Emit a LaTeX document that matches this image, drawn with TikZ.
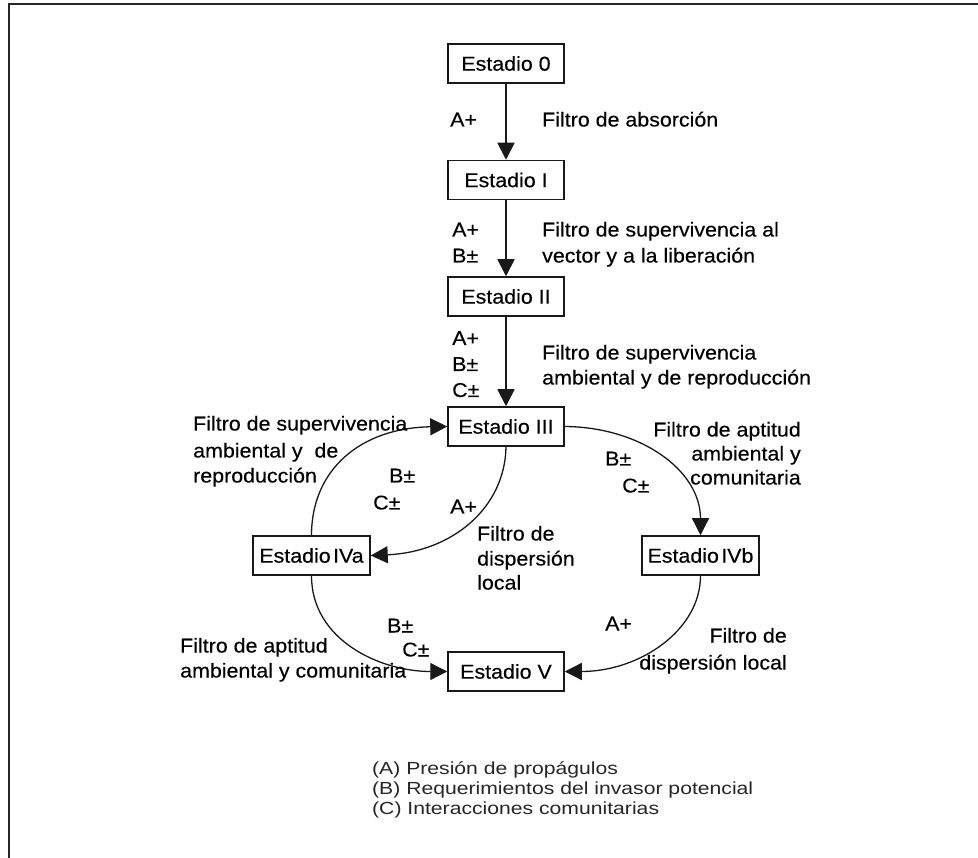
\documentclass[tikz,border=0pt]{standalone}
\usepackage{fontspec}
\usepackage{graphicx}
\setmainfont[FakeStretch=1.07,FakeBold=0.3]{Liberation Sans}
\newfontfamily\legendfont[FakeStretch=1.07]{Liberation Sans}
\usetikzlibrary{arrows.meta}
\newcommand{\lgdtext}[1]{\scalebox{1.13}[1]{#1}}
\begin{document}
\begin{tikzpicture}[x=1pt,y=-1pt,
 box/.style={draw=black!90, line width=1.5pt, minimum width=116pt, minimum height=39pt, inner sep=0pt, font=\fontsize{20}{24}\selectfont, text=black, fill=white},
 lbl/.style={inner sep=0pt, font=\fontsize{20}{24}\selectfont, text=black},
 lw/.style={lbl, anchor=base west},
 le/.style={lbl, anchor=base east},
 lgd/.style={inner sep=0pt, font=\legendfont\fontsize{17.5}{20}\selectfont, text=black!85, anchor=base west},
 varrow/.style={draw=black!90, line width=1.8pt, -{Triangle[length=17pt,width=17pt]}},
 carrow/.style={draw=black!90, line width=1.3pt, -{Triangle[length=17pt,width=17pt]}},
]
\useasboundingbox (0,0) rectangle (978,858);
\draw[line width=2pt, black!85] (8.5,858) -- (8.5,4.5) -- (978,4.5);

% boxes
\node[box] (s0) at (506,63.5) {Estadio 0};
\node[box] (s1) at (506,180) {Estadio I};
\node[box] (s2) at (506,296.5) {Estadio II};
\node[box] (s3) at (506,426.5) {Estadio III};
\node[box, minimum width=117pt] (s4a) at (311.5,555.5) {Estadio\hspace{0.12em}IVa};
\node[box, minimum width=117pt] (s4b) at (700.5,555.5) {Estadio\hspace{0.12em}IVb};
\node[box] (s5) at (506,671.5) {Estadio V};

% connectors
\draw[varrow] (s0) -- (s1);
\draw[varrow] (s1) -- (s2);
\draw[varrow] (s2) -- (s3);
\draw[carrow] (s3.south) .. controls (505,508) and (452,552) .. (s4a.east);
\draw[carrow] (s4a.north) .. controls (311.5,470) and (360,428) .. (s3.west);
\draw[carrow] (s3.east) .. controls (640,427) and (700.5,470) .. (s4b.north);
\draw[carrow] (s4b.south) .. controls (700.5,630) and (640,671.5) .. (s5.east);
\draw[carrow] (s4a.south) .. controls (311.5,640) and (380,671.5) .. (s5.west);

% labels 0 -> I
\node[lw] (a01) at (450,126.5) {A+};
\node[lw] (f01) at (542,126.5) {Filtro de absorción};
% I -> II
\node[lw] (a12) at (452,236.5) {A+};
\node[lw] (b12) at (452,262.5) {B±};
\node[lw] (f12a) at (542,236.5) {Filtro de supervivencia al};
\node[lw] (f12b) at (542,262.5) {vector y a la liberación};
% II -> III
\node[lw] (a23) at (452,345) {A+};
\node[lw] (b23) at (452,371) {B±};
\node[lw] (c23) at (452,397) {C±};
\node[lw] (f23a) at (542,359.5) {Filtro de supervivencia};
\node[lw] (f23b) at (542,384.5) {ambiental y de reproducción};
% IVa -> III
\node[lw] (fa3a) at (193,430.5) {Filtro de supervivencia};
\node[lw] (fa3b) at (193,457.5) {ambiental y \ de};
\node[lw] (fa3c) at (193,482.5) {reproducción};
\node[lw] (ba3) at (389,482.5) {B±};
\node[lw] (ca3) at (373,509.5) {C±};
% III -> IVa
\node[lw] (a3a) at (450,513.5) {A+};
\node[lw] (f3aa) at (477,540.5) {Filtro de};
\node[lw] (f3ab) at (477,565.5) {dispersión};
\node[lw] (f3ac) at (477,589.5) {local};
% III -> IVb
\node[le] (f3ba) at (801,436.5) {Filtro de aptitud};
\node[le] (f3bb) at (801,460.5) {ambiental y};
\node[le] (f3bc) at (801,484.5) {comunitaria};
\node[lw] (b3b) at (605,465.5) {B±};
\node[lw] (c3b) at (622,492.5) {C±};
% IVb -> V
\node[lw] (ab5) at (605,630.5) {A+};
\node[le] (fb5a) at (787,642.5) {Filtro de};
\node[le] (fb5b) at (787,669.5) {dispersión local};
% IVa -> V
\node[lw] (ba5) at (387,632.5) {B±};
\node[lw] (ca5) at (402,656.5) {C±};
\node[lw] (fa5a) at (180,652.5) {Filtro de aptitud};
\node[lw] (fa5b) at (180,677.5) {ambiental y comunitaria};

% legend
\node[lgd] (la) at (372,774.5) {\lgdtext{(A) Presión de propágulos}};
\node[lgd] (lb) at (372,794.5) {\lgdtext{(B) Requerimientos del invasor potencial}};
\node[lgd] (lc) at (372,814.5) {\lgdtext{(C) Interacciones comunitarias}};
\end{tikzpicture}
\end{document}
